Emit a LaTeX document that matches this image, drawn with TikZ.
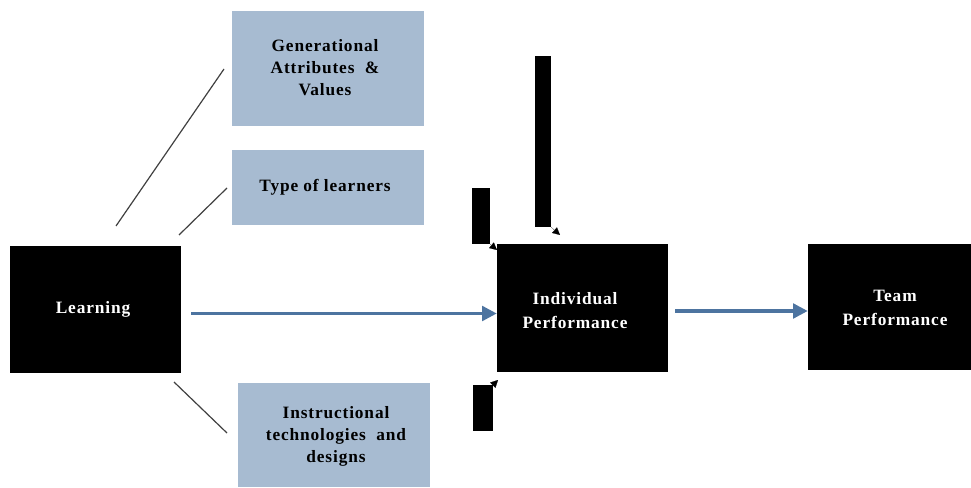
\documentclass[tikz,border=0pt]{standalone}
\usepackage{fontspec}
\setmainfont{Liberation Serif}[LetterSpace=5]
\usetikzlibrary{arrows.meta}
\definecolor{boxblue}{HTML}{A7BBD1}
\definecolor{arrblue}{HTML}{4D74A0}
\begin{document}
\begin{tikzpicture}[x=0.75pt,y=-0.75pt,
  factor/.style={fill=boxblue,draw=none,inner sep=0pt},
  blackbox/.style={fill=black,draw=none,inner sep=0pt},
  ftext/.style={font=\bfseries\fontsize{13}{16.5}\selectfont,align=center,inner sep=0pt},
  wtext/.style={ftext,text=white,font=\bfseries\fontsize{13}{18}\selectfont},
  bar/.style={fill=black,draw=none,inner sep=0pt},
  thin/.style={draw=black!75,line width=0.9pt},
  flow/.style={draw=arrblue,line width=2.4pt,-{Triangle[length=11pt,width=11pt]}},
  tip/.style={-{Triangle[length=5.5pt,width=5.5pt]},line width=0.1pt}]
\useasboundingbox (0,0) rectangle (971,488);
% factor boxes
\node[factor,minimum width=144pt,minimum height=86.25pt] (gen) at (328,68.5) {};
\node[ftext] (gent) at (325,67.5) {Generational\\Attributes\ \ \&\\Values};
\node[factor,minimum width=144pt,minimum height=56.25pt] (type) at (328,187.5) {};
\node[ftext] (typet) at (325,187) {Type of learners};
\node[factor,minimum width=144pt,minimum height=78pt] (instr) at (334,435) {};
\node[ftext] (instrt) at (336,436.5) {Instructional\\technologies\ \ and\\designs};
% black boxes
\node[blackbox,minimum width=128.25pt,minimum height=95.25pt] (learn) at (95.5,309.5) {};
\node[wtext] (learnt) at (93,309.5) {Learning};
\node[blackbox,minimum width=128.25pt,minimum height=96pt] (ip) at (582.5,308) {};
\node[wtext] (ipt) at (575,311) {Individual\\Performance};
\node[blackbox,minimum width=122.25pt,minimum height=94.5pt] (tp) at (889.5,307) {};
\node[wtext] (tpt) at (895,308) {Team\\Performance};
% black bars
\node[bar,minimum width=12pt,minimum height=128.25pt] (bt) at (543,141.5) {};
\node[bar,minimum width=13.5pt,minimum height=42pt] (bu) at (481,216) {};
\node[bar,minimum width=15pt,minimum height=34.5pt] (bl) at (483,408) {};
\coordinate (tt) at (560,235);
\coordinate (tu) at (497,250);
\coordinate (tl) at (498,380);
\draw[tip] (bt.south east) -- (tt);
\draw[tip] (bu.south east) -- (tu);
\draw[tip] (bl.north east) -- (tl);
% thin lines
\coordinate (l1a) at (116,226); \coordinate (l1b) at (224,69);
\coordinate (l2a) at (179,235); \coordinate (l2b) at (227,188);
\coordinate (l3a) at (174,382); \coordinate (l3b) at (227,433);
\draw[thin] (l1a) -- (l1b);
\draw[thin] (l2a) -- (l2b);
\draw[thin] (l3a) -- (l3b);
% flows
\draw[flow] (learn.east) ++(10,4) coordinate (fa) (fa) -- (ip.west |- fa);
\draw[flow] (ip.east) ++(7,3) coordinate (fb) (fb) -- (tp.west |- fb);
\end{tikzpicture}
\end{document}
